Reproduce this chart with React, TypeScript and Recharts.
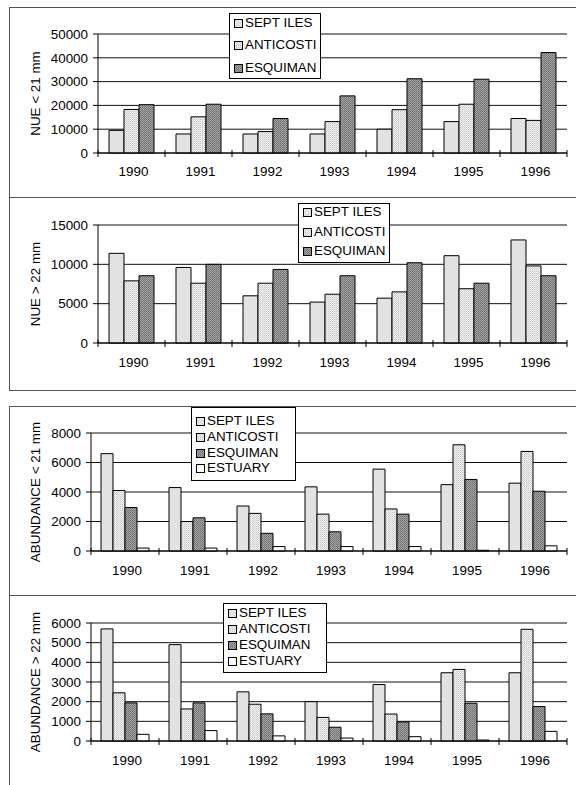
import React from 'react';
import { BarChart, Bar, XAxis, YAxis, CartesianGrid, Legend } from 'recharts';

const years = ['1990', '1991', '1992', '1993', '1994', '1995', '1996'];

const nueSmallSeptIles = [9500, 8000, 8000, 8000, 10000, 13200, 14500];
const nueSmallAnticosti = [18300, 15200, 9000, 13200, 18200, 20500, 13700];
const nueSmallEsquiman = [20300, 20500, 14500, 24000, 31200, 31000, 42200];

const nueLargeSeptIles = [11400, 9600, 6000, 5200, 5700, 11100, 13100];
const nueLargeAnticosti = [7900, 7600, 7600, 6200, 6500, 6900, 9800];
const nueLargeEsquiman = [8550, 10000, 9350, 8550, 10200, 7600, 8550];

const abSmallSeptIles = [6600, 4300, 3050, 4350, 5550, 4500, 4600];
const abSmallAnticosti = [4100, 2000, 2550, 2500, 2850, 7200, 6750];
const abSmallEsquiman = [2950, 2250, 1200, 1300, 2500, 4850, 4050];
const abSmallEstuary = [200, 200, 300, 300, 300, 50, 350];

const abLargeSeptIles = [5700, 4900, 2500, 2000, 2870, 3470, 3470];
const abLargeAnticosti = [2450, 1630, 1870, 1200, 1370, 3640, 5680];
const abLargeEsquiman = [1940, 1940, 1380, 700, 970, 1920, 1750];
const abLargeEstuary = [340, 530, 260, 150, 220, 50, 490];

const ticksNueSmall = [0, 10000, 20000, 30000, 40000, 50000];
const ticksNueLarge = [0, 5000, 10000, 15000];
const ticksAbSmall = [0, 2000, 4000, 6000, 8000];
const ticksAbLarge = [0, 1000, 2000, 3000, 4000, 5000, 6000];

const FONT = 'Arial, "Liberation Sans", sans-serif';
const FS = 13.4;

type Series = { key: string; name: string };

const seriesThree: Series[] = [
  { key: 'sept', name: 'SEPT ILES' },
  { key: 'anti', name: 'ANTICOSTI' },
  { key: 'esq', name: 'ESQUIMAN' },
];
const seriesFour: Series[] = [...seriesThree, { key: 'est', name: 'ESTUARY' }];

function build(a: number[], b: number[], c: number[], d?: number[]) {
  return years.map((y, i) => {
    const row: any = { year: y, sept: a[i], anti: b[i], esq: c[i] };
    if (d) row.est = d[i];
    return row;
  });
}

const makeCatTick = (margin: number, count: number) => (props: any) => {
  const { x, y, payload } = props;
  const off = payload && payload.offset ? payload.offset : 0;
  const axisY = y - margin;
  const idx = payload ? payload.index : 0;
  return (
    <g>
      <line x1={x - off} x2={x - off} y1={axisY - 3} y2={axisY + 4} stroke="#000" strokeWidth={1} />
      {idx === count - 1 && (
        <line x1={x + off} x2={x + off} y1={axisY - 3} y2={axisY + 4} stroke="#000" strokeWidth={1} />
      )}
      <text x={x + 2} y={y} dy="0.71em" textAnchor="middle" fill="#000" fontSize={FS} fontFamily={FONT}>
        {payload ? payload.value : ''}
      </text>
    </g>
  );
};

type LegendCfg = { left: number; top: number; w: number; h: number; first: number; step: number };

const makeLegend = (cfg: LegendCfg, order: Series[]) => (props: any) => {
  const payload: any[] = props.payload || [];
  const sorted = order
    .map((s) => payload.find((p) => p.dataKey === s.key || p.value === s.name))
    .filter(Boolean);
  return (
    <div
      style={{
        position: 'relative',
        width: cfg.w,
        height: cfg.h,
        border: '1px solid #000',
        background: '#fff',
        boxSizing: 'border-box',
        fontFamily: FONT,
        fontSize: FS,
        color: '#000',
      }}
    >
      {sorted.map((p: any, i: number) => (
        <div
          key={p.value}
          style={{
            position: 'absolute',
            left: 4,
            top: cfg.first + i * cfg.step - 8,
            height: 16,
            display: 'flex',
            alignItems: 'center',
            whiteSpace: 'nowrap',
            lineHeight: '16px',
          }}
        >
          <svg width={10} height={10} style={{ marginRight: 1, marginTop: 2, flex: 'none' }}>
            <rect x={0.5} y={0.5} width={8} height={8} fill={p.color} stroke="#000" strokeWidth={1} />
          </svg>
          <span>{p.value}</span>
        </div>
      ))}
    </div>
  );
};

type PanelProps = {
  id: string;
  top: number;
  height: number;
  data: any[];
  series: Series[];
  yTicks: number[];
  yLabel: string;
  yWidth: number;
  barSize: number;
  marginTop: number;
  marginBottom: number;
  legend: LegendCfg;
  tickMargin: number;
};

const Panel = (p: PanelProps) => {
  const max = p.yTicks[p.yTicks.length - 1];
  const fills: Record<string, string> = {
    sept: '#e2e2e2',
    anti: `url(#${p.id}-anti)`,
    esq: `url(#${p.id}-esq)`,
    est: '#ffffff',
  };
  return (
    <div style={{ position: 'absolute', left: 0, top: p.top, width: 576, height: p.height }}>
      <BarChart
        width={576}
        height={p.height}
        data={p.data}
        margin={{ top: p.marginTop, right: 9, bottom: p.marginBottom, left: 0 }}
        barGap={0}
        barSize={p.barSize}
      >
        <defs>
          <pattern id={`${p.id}-anti`} width={2} height={2} patternUnits="userSpaceOnUse">
            <rect x={0} y={0} width={2} height={2} fill="#f2f2f2" />
            <rect x={0} y={0} width={1} height={1} fill="#c4c4c4" />
            <rect x={1} y={1} width={1} height={1} fill="#d8d8d8" />
          </pattern>
          <pattern id={`${p.id}-esq`} width={2} height={2} patternUnits="userSpaceOnUse">
            <rect x={0} y={0} width={2} height={2} fill="#a4a4a4" />
            <rect x={0} y={0} width={1} height={1} fill="#6c6c6c" />
            <rect x={1} y={1} width={1} height={1} fill="#7c7c7c" />
          </pattern>
        </defs>
        <CartesianGrid vertical={false} stroke="#111" strokeWidth={1} />
        <XAxis
          dataKey="year"
          axisLine={{ stroke: '#000', strokeWidth: 1 }}
          tickLine={false}
          tickSize={0}
          tickMargin={p.tickMargin}
          interval={0}
          height={30}
          tick={makeCatTick(p.tickMargin, years.length)}
        />
        <YAxis
          domain={[0, max]}
          ticks={p.yTicks}
          width={p.yWidth}
          interval={0}
          axisLine={{ stroke: '#000', strokeWidth: 1 }}
          tickLine={{ stroke: '#000', strokeWidth: 1 }}
          tickSize={5}
          tickMargin={5}
          tick={{ fill: '#000', fontSize: FS, fontFamily: FONT }}
          label={{
            value: p.yLabel,
            angle: -90,
            position: 'insideLeft',
            offset: 35,
            style: { textAnchor: 'middle', fill: '#000', fontSize: FS, fontFamily: FONT },
          }}
        />
        <YAxis
          yAxisId="r"
          orientation="right"
          domain={[0, 1]}
          width={0}
          tick={false}
          tickLine={false}
          axisLine={{ stroke: '#000', strokeWidth: 1 }}
        />
        <Legend
          layout="vertical"
          align="center"
          verticalAlign="middle"
          wrapperStyle={{ left: p.legend.left, top: p.legend.top, width: p.legend.w, height: p.legend.h }}
          content={makeLegend(p.legend, p.series)}
        />
        {p.series.map((s) => (
          <Bar
            key={s.key}
            dataKey={s.key}
            name={s.name}
            fill={fills[s.key]}
            stroke="#000"
            strokeWidth={1}
            isAnimationActive={false}
          />
        ))}
      </BarChart>
    </div>
  );
};

const Frame = ({ top, height }: { top: number; height: number }) => (
  <div
    style={{
      position: 'absolute',
      left: 9,
      top,
      width: 620,
      height,
      border: '1px solid #555',
      boxSizing: 'border-box',
    }}
  />
);

export default function App() {
  return (
    <div
      style={{
        position: 'absolute',
        left: 0,
        top: 0,
        width: 576,
        height: 785,
        overflow: 'hidden',
        background: '#fff',
        fontFamily: FONT,
      }}
    >
      <Frame top={7} height={191} />
      <Frame top={197} height={194} />
      <Frame top={406} height={190} />
      <Frame top={595} height={220} />
      <Panel
        id="p1"
        top={7}
        height={190}
        data={build(nueSmallSeptIles, nueSmallAnticosti, nueSmallEsquiman)}
        series={seriesThree}
        yTicks={ticksNueSmall}
        yLabel="NUE < 21 mm"
        yWidth={98}
        barSize={15}
        marginTop={27}
        marginBottom={14}
        tickMargin={13}
        legend={{ left: 229, top: 6, w: 92, h: 66, first: 8.5, step: 22.8 }}
      />
      <Panel
        id="p2"
        top={197}
        height={193}
        data={build(nueLargeSeptIles, nueLargeAnticosti, nueLargeEsquiman)}
        series={seriesThree}
        yTicks={ticksNueLarge}
        yLabel="NUE > 22 mm"
        yWidth={98}
        barSize={15}
        marginTop={28}
        marginBottom={17}
        tickMargin={14}
        legend={{ left: 298, top: 6, w: 92, h: 60, first: 8, step: 19.5 }}
      />
      <Panel
        id="p3"
        top={406}
        height={189}
        data={build(abSmallSeptIles, abSmallAnticosti, abSmallEsquiman, abSmallEstuary)}
        series={seriesFour}
        yTicks={ticksAbSmall}
        yLabel="ABUNDANCE < 21 mm"
        yWidth={91}
        barSize={12}
        marginTop={27}
        marginBottom={14}
        tickMargin={14}
        legend={{ left: 191, top: 1, w: 105, h: 74, first: 13, step: 15.8 }}
      />
      <Panel
        id="p4"
        top={595}
        height={190}
        data={build(abLargeSeptIles, abLargeAnticosti, abLargeEsquiman, abLargeEstuary)}
        series={seriesFour}
        yTicks={ticksAbLarge}
        yLabel="ABUNDANCE > 22 mm"
        yWidth={91}
        barSize={12}
        marginTop={28}
        marginBottom={14}
        tickMargin={14}
        legend={{ left: 223, top: 8, w: 104, h: 70, first: 9, step: 15.9 }}
      />
    </div>
  );
}
